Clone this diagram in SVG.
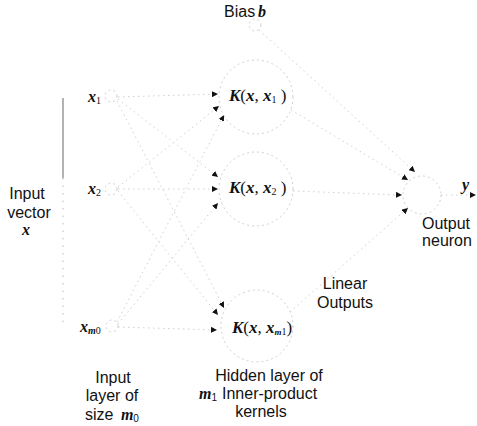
<svg xmlns="http://www.w3.org/2000/svg" width="477" height="426" viewBox="0 0 477 426">
  <style>
    .lbl { font-family: "Liberation Sans", Arial, sans-serif; font-size: 16px; fill: #111; }
    .math { font-family: "Liberation Serif", "Times New Roman", serif; font-style: italic; font-weight: bold; fill: #111; }
    .rom { font-style: normal; font-weight: normal; }
    .sub { font-style: normal; font-weight: normal; font-size: 10px; }
    .node { fill: none; stroke: #d0d0d0; stroke-width: 1; stroke-dasharray: 2 3; }
    .edge { fill: none; stroke: #d0d0d0; stroke-width: 1; stroke-dasharray: 1.5 3.5; }
  </style>
  <defs>
    <marker id="arrow" markerUnits="userSpaceOnUse" markerWidth="6" markerHeight="6" refX="6" refY="3" orient="auto">
      <path d="M0,0 L6,3 L0,6 z" fill="#111"/>
    </marker>
  </defs>

  <rect width="477" height="426" fill="#fff"/>

  <!-- input vector bracket -->
  <g id="input-vector">
    <line x1="63" y1="98" x2="63" y2="178" stroke="#666" stroke-width="1"/>
    <line x1="63" y1="178" x2="63" y2="328" stroke="#bbb" stroke-width="1" stroke-dasharray="1.5 6"/>
    <text class="lbl" x="27" y="199" text-anchor="middle">Input</text>
    <text class="lbl" x="29" y="218" text-anchor="middle">vector</text>
    <text class="math" x="26" y="235" font-size="16" text-anchor="middle">x</text>
  </g>

  <!-- connectors -->
  <g id="connectors">
    <!-- input layer to hidden layer -->
    <line class="edge" x1="118" y1="97" x2="218" y2="94" marker-end="url(#arrow)"/>
    <line class="edge" x1="118" y1="99" x2="218" y2="177" marker-end="url(#arrow)"/>
    <line class="edge" x1="117" y1="101" x2="224" y2="308" marker-end="url(#arrow)"/>
    <line class="edge" x1="118" y1="187" x2="219" y2="106" marker-end="url(#arrow)"/>
    <line class="edge" x1="118" y1="189" x2="218" y2="189" marker-end="url(#arrow)"/>
    <line class="edge" x1="118" y1="191" x2="218" y2="315" marker-end="url(#arrow)"/>
    <line class="edge" x1="117" y1="322" x2="224" y2="115" marker-end="url(#arrow)"/>
    <line class="edge" x1="118" y1="324" x2="218" y2="203" marker-end="url(#arrow)"/>
    <line class="edge" x1="118" y1="327" x2="217" y2="330" marker-end="url(#arrow)"/>
    <!-- bias and hidden layer to output neuron -->
    <line class="edge" x1="259" y1="30" x2="415" y2="172" marker-end="url(#arrow)"/>
    <line class="edge" x1="291" y1="110" x2="408" y2="180" marker-end="url(#arrow)"/>
    <line class="edge" x1="293" y1="191" x2="402" y2="195" marker-end="url(#arrow)"/>
    <line class="edge" x1="290" y1="312" x2="408" y2="208" marker-end="url(#arrow)"/>
    <!-- output -->
    <line class="edge" x1="441" y1="195" x2="476" y2="195" marker-end="url(#arrow)"/>
  </g>

  <!-- input layer -->
  <g id="in-x1">
    <circle class="node" cx="111" cy="96" r="6"/>
    <text class="math" x="88" y="102" font-size="16">x<tspan class="sub" dy="2">1</tspan></text>
  </g>
  <g id="in-x2">
    <circle class="node" cx="111" cy="189" r="6"/>
    <text class="math" x="88" y="194" font-size="16">x<tspan class="sub" dy="2">2</tspan></text>
  </g>
  <g id="in-xm0">
    <circle class="node" cx="112" cy="326" r="6"/>
    <text class="math" x="80" y="332" font-size="16">x<tspan font-size="10" dy="2">m</tspan><tspan class="sub">0</tspan></text>
  </g>

  <!-- bias -->
  <g id="bias">
    <circle class="node" cx="255" cy="25" r="6"/>
    <text class="lbl" x="224" y="17" font-size="14">Bias</text>
    <text class="math" x="258" y="17" font-size="16">b</text>
  </g>

  <!-- hidden layer of inner-product kernels -->
  <g id="hid-1">
    <circle class="node" cx="256" cy="97" r="37"/>
    <text class="math" x="229" y="101" font-size="17">K<tspan class="rom">(</tspan>x<tspan class="rom">, </tspan>x<tspan class="sub" dy="2">1</tspan><tspan class="rom" dy="-2"> )</tspan></text>
  </g>
  <g id="hid-2">
    <circle class="node" cx="256" cy="189" r="37"/>
    <text class="math" x="229" y="193" font-size="17">K<tspan class="rom">(</tspan>x<tspan class="rom">, </tspan>x<tspan class="sub" dy="2">2</tspan><tspan class="rom" dy="-2"> )</tspan></text>
  </g>
  <g id="hid-m1">
    <circle class="node" cx="257" cy="326" r="36"/>
    <text class="math" x="232" y="333" font-size="17">K<tspan class="rom">(</tspan>x<tspan class="rom">, </tspan>x<tspan font-size="9" dy="2">m</tspan><tspan class="sub" font-size="9">1</tspan><tspan class="rom" dy="-2">)</tspan></text>
  </g>

  <!-- output neuron -->
  <g id="out">
    <circle class="node" cx="422" cy="195" r="19"/>
    <text class="math" x="462" y="190" font-size="16">y</text>
    <text class="lbl" x="446" y="229" text-anchor="middle">Output</text>
    <text class="lbl" x="447" y="246" text-anchor="middle">neuron</text>
  </g>

  <!-- layer captions -->
  <g id="captions">
    <text class="lbl" x="345" y="289" text-anchor="middle">Linear</text>
    <text class="lbl" x="345" y="308" text-anchor="middle">Outputs</text>
    <text class="lbl" x="113" y="383" text-anchor="middle">Input</text>
    <text class="lbl" x="112" y="401" text-anchor="middle">layer of</text>
    <text class="lbl" x="85" y="420">size <tspan class="math" dx="3">m</tspan><tspan class="sub" font-size="9" dy="2">0</tspan></text>
    <text class="lbl" x="269" y="381" text-anchor="middle">Hidden layer of</text>
    <text class="lbl" x="199" y="399"><tspan class="math">m</tspan><tspan class="sub" font-size="9" dy="2">1</tspan><tspan dy="-2" dx="5">Inner-product</tspan></text>
    <text class="lbl" x="261" y="417" text-anchor="middle">kernels</text>
  </g>
</svg>
